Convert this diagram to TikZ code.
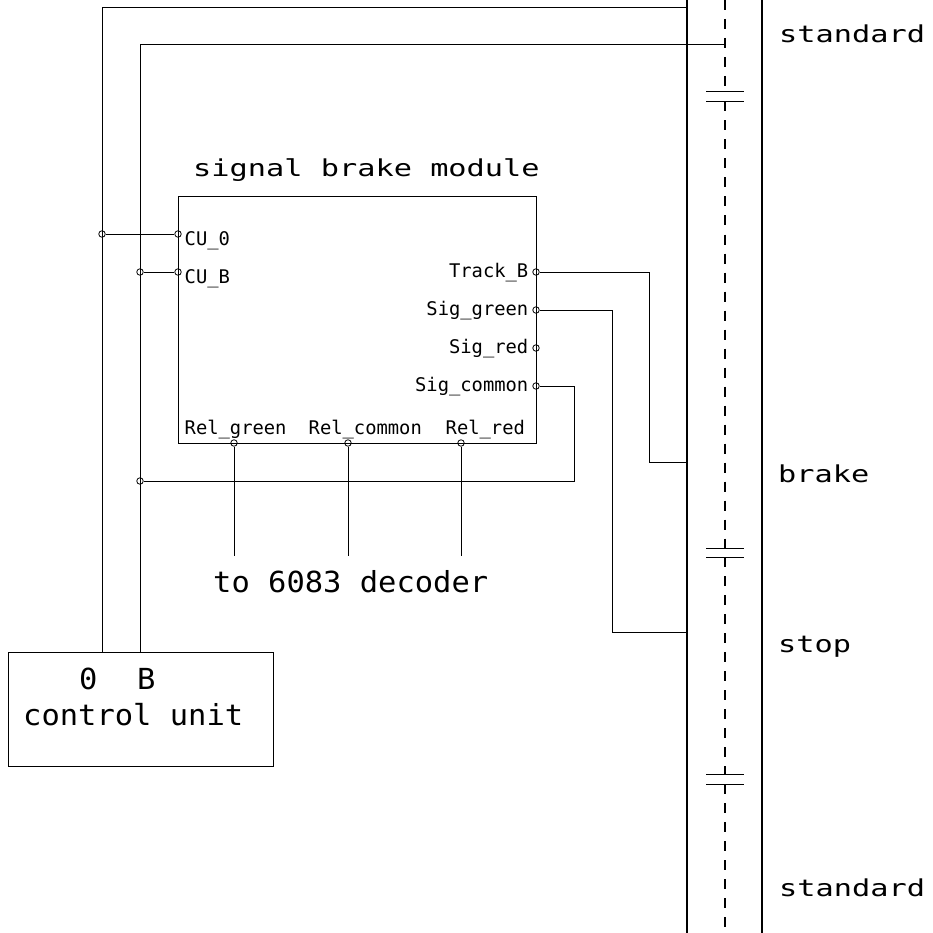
\documentclass[tikz,border=0pt]{standalone}
\usepackage{fontspec}
\usepackage{tikz}
\usetikzlibrary{positioning}
\newfontfamily\cadwidefamily[FakeStretch=1.3]{DejaVu Sans Mono}
\newfontfamily\cadtallfamily[FakeStretch=1.05]{DejaVu Sans Mono}
\newfontfamily\cadsmallfamily{DejaVu Sans Mono}
\newcommand{\cadwide}{\cadwidefamily\fontsize{23.3}{28}\selectfont}
\newcommand{\cadtall}{\cadtallfamily\fontsize{29}{34}\selectfont}
\newcommand{\cadsmall}{\cadsmallfamily\fontsize{18.8}{22}\selectfont}

\begin{document}
\begin{tikzpicture}[x=1pt, y=-1pt,
    wire/.style={line width=0.8pt},
    rail/.style={line width=2pt},
    centre/.style={line width=2pt, dash pattern=on 10pt off 9pt},
    gapline/.style={line width=1pt},
    pin/.style={circle, draw, line width=0.8pt, inner sep=0pt, minimum size=6.5pt},
    box/.style={draw, line width=0.8pt, inner sep=0pt, anchor=north west},
    tracklabel/.style={anchor=base west, inner sep=0pt, font=\cadwide},
    biglabel/.style={anchor=base west, inner sep=0pt, font=\cadtall},
    pinlabel/.style={inner sep=0pt, font=\cadsmall}]
    \useasboundingbox (0,0) rectangle (933,933);

    % track
    \draw[rail] (687,0) -- (687,933);
    \draw[rail] (762,0) -- (762,933);
    \draw[centre] (725,0) -- (725,92);
    \draw[centre] (725,101.5) -- (725,548);
    \draw[centre] (725,557) -- (725,774);
    \draw[centre] (725,784) -- (725,933);
    \foreach \ya/\yb in {92/101.5, 548/557, 774/784} {
        \draw[gapline] (706,\ya) -- (744,\ya);
        \draw[gapline] (706,\yb) -- (744,\yb);
    }
    \node[tracklabel] (std1) at (779,43) {standard};
    \node[tracklabel] (brake) at (778,482) {brake};
    \node[tracklabel] (stop) at (778,652) {stop};
    \node[tracklabel] (std2) at (779,896) {standard};

    % signal brake module
    \node[box, minimum width=358pt, minimum height=247pt] (module) at (178,196) {};
    \node[tracklabel] (title) at (193,177) {signal brake module};
    \node[pin] (cu0) at (178,234) {};
    \node[pin] (cub) at (178,272) {};
    \node[pin] (trackb) at (536,272) {};
    \node[pin] (siggreen) at (536,310) {};
    \node[pin] (sigred) at (536,348) {};
    \node[pin] (sigcommon) at (536,386) {};
    \node[pin] (relgreen) at (234,443) {};
    \node[pin] (relcommon) at (348,443) {};
    \node[pin] (relred) at (461,443) {};
    \node[pinlabel, anchor=base west] at (184.5,245) {CU\_0};
    \node[pinlabel, anchor=base west] at (184.5,283) {CU\_B};
    \node[pinlabel, anchor=base east] at (528.5,277) {Track\_B};
    \node[pinlabel, anchor=base east] at (528.5,315) {Sig\_green};
    \node[pinlabel, anchor=base east] at (528.5,353) {Sig\_red};
    \node[pinlabel, anchor=base east] at (528.5,391) {Sig\_common};
    \node[pinlabel, anchor=base west] at (184.5,434) {Rel\_green};
    \node[pinlabel, anchor=base west] at (308.5,434) {Rel\_common};
    \node[pinlabel, anchor=base west] at (445.5,434) {Rel\_red};

    % control unit
    \node[box, minimum width=265pt, minimum height=114pt] (cu) at (8,652) {};
    \node[biglabel] at (79,689) {0};
    \node[biglabel] at (137,689) {B};
    \node[biglabel] at (23,725) {control unit};
    \node[biglabel] (decoder) at (213,592) {to 6083 decoder};

    % junctions and turns
    \node[pin] (j0) at (102,234) {};
    \node[pin] (jb) at (140,272) {};
    \node[pin] (jc) at (140,481) {};
    \coordinate (out0) at (102,652);
    \coordinate (outb) at (140,652);
    \coordinate (top0) at (102,7);
    \coordinate (topb) at (140,44);
    \coordinate (feed0) at (687,7);
    \coordinate (feedb) at (725,44);
    \coordinate (feedbrake) at (687,462);
    \coordinate (feedstop) at (687,632);
    \coordinate (tbturn) at (649,462);
    \coordinate (sgturn) at (612,632);
    \coordinate (scturn) at (574,481);

    % wiring
    \draw[wire] (out0) -- (top0) -- (feed0);
    \draw[wire] (outb) -- (topb) -- (feedb);
    \draw[wire] (j0) -- (cu0);
    \draw[wire] (jb) -- (cub);
    \draw[wire] (jc) -- (scturn) |- (sigcommon);
    \draw[wire] (trackb) -| (tbturn) -- (feedbrake);
    \draw[wire] (siggreen) -| (sgturn) -- (feedstop);
    \foreach \p in {relgreen, relcommon, relred}
        \draw[wire] (\p) -- (\p |- 0,556);
\end{tikzpicture}
\end{document}
